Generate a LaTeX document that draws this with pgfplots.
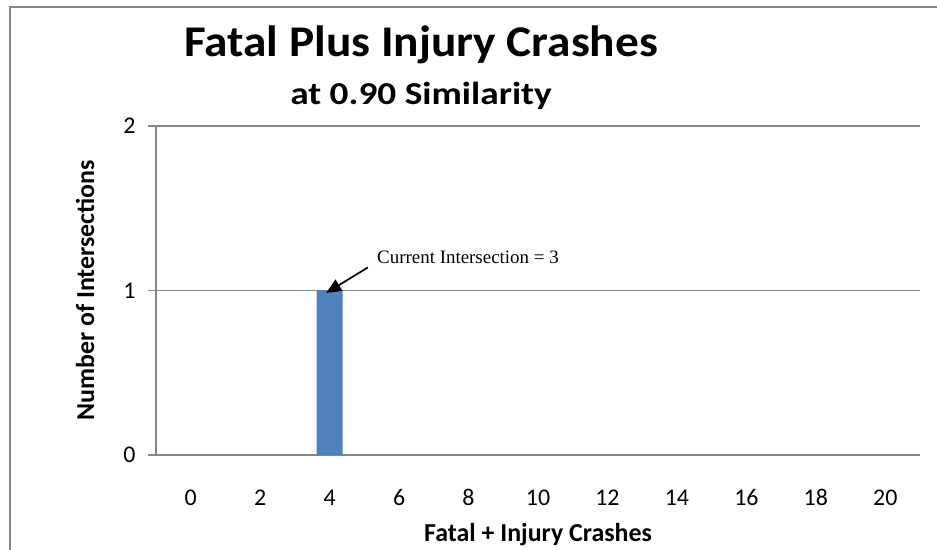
\documentclass[border=0pt]{standalone}
\usepackage{fontspec}
\setmainfont{Carlito}
\newfontfamily\timesfont{Liberation Serif}
\usepackage{graphicx}
\usepackage{pgfplots}
\pgfplotsset{compat=1.18}
\usetikzlibrary{arrows.meta}
\definecolor{barblue}{RGB}{79,129,189}
\definecolor{gridgray}{RGB}{134,134,134}
\begin{document}
\begin{tikzpicture}[x=1bp,y=1bp]
\useasboundingbox (0,0) rectangle (937,550);
\draw[gridgray, line width=1.5bp] (10,-5) -- (10,543) -- (945,543);
\begin{axis}[
  at={(156bp,95bp)}, anchor=south west,
  scale only axis, width=764bp, height=329bp,
  xmin=-0.5, xmax=10.5, ymin=0, ymax=2,
  ybar, bar width=26bp,
  xtick={0,...,10},
  xticklabels={0,2,4,6,8,10,12,14,16,18,20},
  ytick={0,1,2},
  axis x line=bottom, axis y line=left,
  axis line style={gridgray, line width=1.5bp, -},
  ymajorgrids, grid style={gridgray, line width=1.5bp},
  x tick style={draw=none},
  y tick style={gridgray, line width=1.5bp},
  tick align=outside, major tick length=8bp,
  /pgf/number format/assume math mode=true,
  ticklabel style={font=\fontsize{24}{24}\selectfont},
  xticklabel style={yshift=-24bp, text height=15bp},
  yticklabel style={xshift=-9bp},
  xlabel={Fatal + Injury Crashes},
  ylabel={Number of Intersections},
  xlabel style={font=\bfseries\fontsize{26}{26}\selectfont, at={(axis description cs:0.5,-0.2432)}, anchor=center},
  ylabel style={font=\bfseries\fontsize{26}{26}\selectfont, at={(axis description cs:-0.0929,0.5)}, anchor=center},
  clip=false,
]
\addplot[fill=barblue, draw=none] coordinates {
  (0,0) (1,0) (2,1) (3,0) (4,0) (5,0) (6,0) (7,0) (8,0) (9,0) (10,0)
};
\draw[-{Triangle[length=15bp,width=13bp]}, line width=1.7bp, black]
  (axis cs:2.55,1.14) -- (axis cs:1.95,0.985);
\node[anchor=base west, inner sep=0pt, font=\timesfont\fontsize{19}{19}\selectfont]
  at (axis cs:2.682,1.167) {Current Intersection = 3};
\end{axis}
\node[anchor=base, inner sep=0pt, font=\bfseries\fontsize{44}{44}\selectfont] at (421,493.5) {\scalebox{1.08}[1]{Fatal Plus Injury Crashes}};
\node[anchor=base, inner sep=0pt, font=\bfseries\fontsize{32}{32}\selectfont] at (421,445.5) {\scalebox{1.17}[1]{at 0.90 Similarity}};
\end{tikzpicture}
\end{document}
